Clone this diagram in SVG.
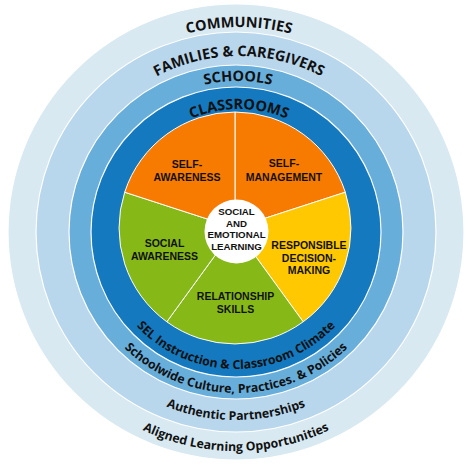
<svg xmlns="http://www.w3.org/2000/svg" width="471" height="468" viewBox="0 0 471 468">
<defs>
<style>
.ring{stroke:#ffffff;stroke-width:1.2}
.slice{stroke:#ffffff;stroke-width:1}
.rt{font-family:"Open Sans","Liberation Sans",sans-serif;font-weight:700;fill:#111111;text-anchor:middle}
.cap{font-size:14.5px}
.low{font-size:12.3px}
.pt{font-family:"Liberation Sans",Arial,sans-serif;font-weight:700;font-size:10.5px;fill:#111111;text-anchor:middle}
.ct{font-family:"Liberation Sans",Arial,sans-serif;font-weight:700;font-size:9.7px;fill:#111111;text-anchor:middle}
</style>
<path id="tCom" d="M34,232 A205,205 0 0 1 444,232"/>
<path id="tFam" d="M63,232 A176,176 0 0 1 415,232"/>
<path id="tSch" d="M87,232 A151,151 0 0 1 389,232"/>
<path id="tCla" d="M116,232 A123,123 0 0 1 362,232"/>
<path id="bSel" d="M99,232 A137,137 0 0 0 373,232"/>
<path id="bSch" d="M75,232 A161,161 0 0 0 397,232"/>
<path id="bAut" d="M48,232 A188,188 0 0 0 424,232"/>
<path id="bAli" d="M17,232 A219,219 0 0 0 455,232"/>
</defs>
<g id="rings">
<circle id="communities" class="ring" cx="236" cy="232" r="228" fill="#d8e9f1"/>
<circle id="families" class="ring" cx="236" cy="232" r="200" fill="#b9d7ec"/>
<circle id="schools" class="ring" cx="236" cy="232" r="167" fill="#68aedb"/>
<circle id="classrooms" class="ring" cx="236" cy="232" r="145" fill="#1479be"/>
</g>
<g id="ring-labels">
<text class="rt cap"><textPath href="#tCom" startOffset="50%">COMMUNITIES</textPath></text>
<text class="rt cap"><textPath href="#tFam" startOffset="50%">FAMILIES &amp; CAREGIVERS</textPath></text>
<text class="rt cap"><textPath href="#tSch" startOffset="50%">SCHOOLS</textPath></text>
<text class="rt cap"><textPath href="#tCla" startOffset="50%">CLASSROOMS</textPath></text>
<text class="rt low"><textPath href="#bSel" startOffset="50%">SEL Instruction &amp; Classroom Climate</textPath></text>
<text class="rt low"><textPath href="#bSch" startOffset="50%">Schoolwide Culture, Practices. &amp; Policies</textPath></text>
<text class="rt low"><textPath href="#bAut" startOffset="50%">Authentic Partnerships</textPath></text>
<text class="rt low"><textPath href="#bAli" startOffset="50%">Aligned Learning Opportunities</textPath></text>
</g>
<g id="self-management">
<path class="slice" fill="#f77b00" d="M235,228 L235,112 A116,116 0 0 1 345.3,192.2 Z"/>
<text class="pt" x="284" y="167">SELF-</text>
<text class="pt" x="284" y="181">MANAGEMENT</text>
</g>
<g id="responsible-decision-making">
<path class="slice" fill="#ffc800" d="M235,228 L345.3,192.2 A116,116 0 0 1 303.2,321.8 Z"/>
<text class="pt" x="309" y="249">RESPONSIBLE</text>
<text class="pt" x="309" y="261.5">DECISION-</text>
<text class="pt" x="309" y="274">MAKING</text>
</g>
<g id="relationship-skills">
<path class="slice" fill="#86b918" d="M235,228 L303.2,321.8 A116,116 0 0 1 166.8,321.8 Z"/>
<text class="pt" x="235.5" y="300">RELATIONSHIP</text>
<text class="pt" x="235.5" y="312.5">SKILLS</text>
</g>
<g id="social-awareness">
<path class="slice" fill="#86b918" d="M235,228 L166.8,321.8 A116,116 0 0 1 124.7,192.2 Z"/>
<text class="pt" x="164.5" y="247">SOCIAL</text>
<text class="pt" x="164.5" y="259.5">AWARENESS</text>
</g>
<g id="self-awareness">
<path class="slice" fill="#f77b00" d="M235,228 L124.7,192.2 A116,116 0 0 1 235,112 Z"/>
<text class="pt" x="187" y="167.5">SELF-</text>
<text class="pt" x="187" y="181">AWARENESS</text>
</g>
<g id="sel-center">
<circle cx="236.5" cy="231.5" r="32" fill="#ffffff"/>
<text class="ct" x="236.5" y="215">SOCIAL</text>
<text class="ct" x="236.5" y="226.7">AND</text>
<text class="ct" x="236.5" y="238.4">EMOTIONAL</text>
<text class="ct" x="236.5" y="250">LEARNING</text>
</g>
</svg>
